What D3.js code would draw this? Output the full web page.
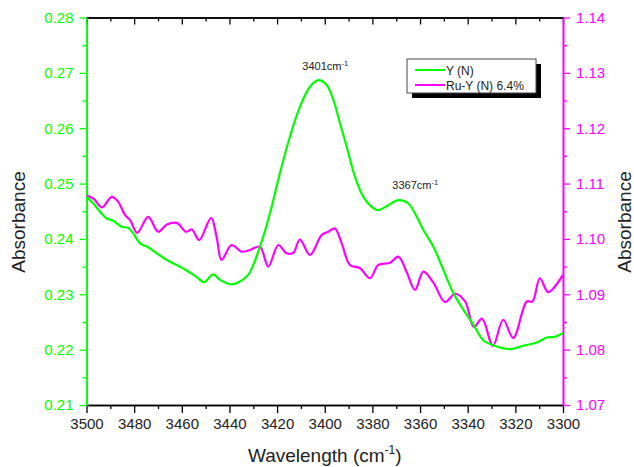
<!DOCTYPE html>
<html>
<head>
<meta charset="utf-8">
<script src="https://cdn.jsdelivr.net/npm/d3@7"></script>
<style>
    body { margin: 0; background: #fff; }
    svg { font-family: "Liberation Sans", Arial, sans-serif; }
</style>
</head>
<body>
<svg id="chart" width="634" height="467"></svg>
<script>
'use strict';

// Y (N) spectrum, left axis
var wavelengthY = [3500, 3497.1, 3494.3, 3491.5, 3488.8, 3485.2, 3482.5, 3480.4, 3477.5, 3474.1,
    3470.5, 3466.3, 3462.1, 3457.9, 3453.7, 3450.7, 3446.8, 3444.0, 3439.1, 3435.6,
    3432.1, 3427.2, 3423.0, 3418.8, 3414.6, 3410.4, 3406.2, 3402.7, 3399.2, 3396.4,
    3393.6, 3390.8, 3387.3, 3383.8, 3380.3, 3377.5, 3373.3, 3369.1, 3364.9, 3361.4,
    3358.6, 3354.4, 3350.2, 3346.0, 3341.8, 3337.6, 3333.5, 3329.3, 3322.2, 3316.7,
    3311.0, 3306.8, 3303.4, 3300];
var absorbanceY = [0.2476, 0.2464, 0.2449, 0.2437, 0.2433, 0.2422, 0.2420, 0.2410, 0.2392, 0.2385,
    0.2374, 0.2362, 0.2353, 0.2343, 0.2331, 0.2322, 0.2336, 0.2326, 0.2318, 0.2323,
    0.2335, 0.2386, 0.2446, 0.2519, 0.2585, 0.2639, 0.2675, 0.2687, 0.2678, 0.2651,
    0.2609, 0.2567, 0.2512, 0.2476, 0.2458, 0.2452, 0.2461, 0.2470, 0.2464, 0.2440,
    0.2416, 0.2386, 0.2344, 0.2302, 0.2272, 0.2245, 0.2217, 0.2208, 0.2201, 0.2207,
    0.2213, 0.2222, 0.2223, 0.2230];

// Ru-Y (N) 6.4% spectrum, right axis
var wavelengthRu = [3500, 3497.1, 3493.6, 3489.4, 3486.7, 3483.8, 3481.7, 3478.7, 3474.1, 3469.9,
    3466.3, 3462.1, 3458.2, 3455.8, 3452.7, 3447.7, 3445.4, 3443.3, 3439.1, 3434.9,
    3431.4, 3427.2, 3423.7, 3419.5, 3416.0, 3413.2, 3410.4, 3406.2, 3401.3, 3398.5,
    3395.7, 3392.9, 3389.4, 3385.2, 3381.0, 3377.5, 3372.6, 3369.1, 3365.6, 3362.1,
    3358.6, 3354.4, 3349.5, 3345.3, 3341.1, 3337.4, 3334.0, 3329.4, 3325.1, 3320.9,
    3315.2, 3312.8, 3309.7, 3306.2, 3300];
var absorbanceRu = [1.1078, 1.1073, 1.1057, 1.1076, 1.1067, 1.1043, 1.1034, 1.1011, 1.1040, 1.1013,
    1.1026, 1.1029, 1.1013, 1.1017, 1.0998, 1.1038, 1.1004, 1.0962, 1.0989, 1.0977,
    1.0980, 1.0986, 1.0950, 1.0989, 1.0974, 1.0975, 1.0999, 1.0971, 1.1007, 1.1013,
    1.1019, 1.0992, 1.0953, 1.0947, 1.0929, 1.0953, 1.0957, 1.0968, 1.0940, 1.0908,
    1.0941, 1.0921, 1.0886, 1.0901, 1.0887, 1.0841, 1.0856, 1.0807, 1.0854, 1.0821,
    1.0887, 1.0887, 1.0929, 1.0904, 1.0935];

var xTicks = [3500, 3480, 3460, 3440, 3420, 3400, 3380, 3360, 3340, 3320, 3300];
var leftTicks = [0.21, 0.22, 0.23, 0.24, 0.25, 0.26, 0.27, 0.28];
var rightTicks = [1.07, 1.08, 1.09, 1.10, 1.11, 1.12, 1.13, 1.14];

var seriesNames = ['Y (N)', 'Ru-Y (N) 6.4%'];
var peakLabels = [
    { wavelength: 3401, text: '3401cm', dx: -20, dy: -10 },
    { wavelength: 3367, text: '3367cm', dx: -11, dy: -11 }
];

var GREEN = '#00ff00',
    MAGENTA = '#ff00ff';

var svg = d3.select('#chart'),
    plotLeft = 86.5, plotRight = 563, plotTop = 17.5, plotBottom = 405;

var x = d3.scaleLinear().domain([3500, 3300]).range([plotLeft, plotRight]);
var yL = d3.scaleLinear().domain([0.21, 0.28]).range([plotBottom, plotTop]);
var yR = d3.scaleLinear().domain([1.07, 1.14]).range([plotBottom, plotTop]);

function minors(ticks) {
    var out = [];
    for (var i = 0; i < ticks.length - 1; i++) out.push((ticks[i] + ticks[i + 1]) / 2);
    return out;
}

function styleAxis(g, color) {
    g.selectAll('path').attr('stroke', color).attr('stroke-width', 1.6);
    g.selectAll('line').attr('stroke', color).attr('stroke-width', 1.3);
    g.selectAll('text').attr('fill', color).style('font-size', '15px')
        .style('font-family', '"Liberation Sans", Arial, sans-serif');
}

// minor ticks first, major ticks + axis lines on top
svg.append('g').attr('transform', 'translate(0,' + plotBottom + ')')
    .call(d3.axisBottom(x).tickValues(minors(xTicks)).tickSize(4).tickFormat('').tickSizeOuter(0))
    .call(styleAxis, '#000');
svg.append('g').attr('transform', 'translate(0,' + plotTop + ')')
    .call(d3.axisBottom(x).tickValues(minors(xTicks)).tickSize(4).tickFormat('').tickSizeOuter(0))
    .call(styleAxis, '#000');
svg.append('g').attr('transform', 'translate(' + plotLeft + ',0)')
    .call(d3.axisLeft(yL).tickValues(minors(leftTicks)).tickSize(4).tickFormat('').tickSizeOuter(0))
    .call(styleAxis, GREEN);
svg.append('g').attr('transform', 'translate(' + plotRight + ',0)')
    .call(d3.axisRight(yR).tickValues(minors(rightTicks)).tickSize(4).tickFormat('').tickSizeOuter(0))
    .call(styleAxis, MAGENTA);

svg.append('g').attr('transform', 'translate(0,' + plotBottom + ')')
    .call(d3.axisBottom(x).tickValues(xTicks).tickSize(8).tickPadding(5).tickFormat(d3.format('d')).tickSizeOuter(0))
    .call(styleAxis, '#000')
    .call(function (g) { g.selectAll('text').attr('fill', '#222'); });
svg.append('g').attr('transform', 'translate(0,' + plotTop + ')')
    .call(d3.axisBottom(x).tickValues(xTicks).tickSize(7).tickFormat('').tickSizeOuter(0))
    .call(styleAxis, '#000');
svg.append('g').attr('transform', 'translate(' + plotLeft + ',0)')
    .call(d3.axisLeft(yL).tickValues(leftTicks).tickSize(7).tickPadding(6).tickFormat(d3.format('.2f')).tickSizeOuter(0))
    .call(styleAxis, GREEN);
svg.append('g').attr('transform', 'translate(' + plotRight + ',0)')
    .call(d3.axisRight(yR).tickValues(rightTicks).tickSize(7).tickPadding(6).tickFormat(d3.format('.2f')).tickSizeOuter(0))
    .call(styleAxis, MAGENTA);

// curves
var lineY = d3.line()
    .x(function (d, i) { return x(wavelengthY[i]); })
    .y(function (d) { return yL(d); })
    .curve(d3.curveCatmullRom.alpha(0.5));
var lineRu = d3.line()
    .x(function (d, i) { return x(wavelengthRu[i]); })
    .y(function (d) { return yR(d); })
    .curve(d3.curveCatmullRom.alpha(0.5));

svg.append('path').datum(absorbanceRu)
    .attr('d', lineRu).attr('fill', 'none')
    .attr('stroke', MAGENTA).attr('stroke-width', 2.2);
svg.append('path').datum(absorbanceY)
    .attr('d', lineY).attr('fill', 'none')
    .attr('stroke', GREEN).attr('stroke-width', 2.2);

// peak annotations
var peakAt = function (w) {
    var best = 0;
    wavelengthY.forEach(function (v, i) {
        if (Math.abs(v - w) < Math.abs(wavelengthY[best] - w)) best = i;
    });
    return absorbanceY[best];
};
var notes = svg.append('g').selectAll('text')
    .data(peakLabels)
    .enter().append('text')
    .attr('x', function (d) { return x(d.wavelength) + d.dx; })
    .attr('y', function (d) { return yL(peakAt(d.wavelength)) + d.dy; })
    .attr('fill', '#222')
    .style('font-size', '11px');
notes.append('tspan').text(function (d) { return d.text; });
notes.append('tspan').attr('dy', -4).style('font-size', '7.5px').text('-1');

// legend
var legend = svg.append('g').attr('transform', 'translate(407,59)');
legend.append('rect').attr('x', 5).attr('y', 5).attr('width', 129).attr('height', 34).attr('fill', '#000');
legend.append('rect').attr('width', 129).attr('height', 34)
    .attr('fill', '#fff').attr('stroke', '#444').attr('stroke-width', 1);
var items = legend.selectAll('g.item')
    .data(seriesNames)
    .enter().append('g')
    .attr('class', 'item')
    .attr('transform', function (d, i) { return 'translate(0,' + (11 + i * 15) + ')'; });
items.append('line')
    .attr('x1', 8).attr('x2', 38)
    .attr('stroke', function (d, i) { return i === 0 ? GREEN : MAGENTA; })
    .attr('stroke-width', 2);
items.append('text')
    .attr('x', 39).attr('y', 4.5)
    .attr('fill', '#222')
    .style('font-size', '12px')
    .text(function (d) { return d; });

// axis titles
svg.append('text')
    .attr('transform', 'translate(25,222) rotate(-90)')
    .attr('text-anchor', 'middle')
    .attr('fill', '#222')
    .style('font-size', '19px')
    .text('Absorbance');
svg.append('text')
    .attr('transform', 'translate(631,222) rotate(-90)')
    .attr('text-anchor', 'middle')
    .attr('fill', '#222')
    .style('font-size', '19px')
    .text('Absorbance');

var xTitle = svg.append('text')
    .attr('x', (plotLeft + plotRight) / 2).attr('y', 462)
    .attr('text-anchor', 'middle')
    .attr('fill', '#222')
    .style('font-size', '19px');
xTitle.append('tspan').text('Wavelength (cm');
xTitle.append('tspan').attr('dy', -8).style('font-size', '12px').text('-1');
xTitle.append('tspan').attr('dy', 8).text(')');
</script>
</body>
</html>
